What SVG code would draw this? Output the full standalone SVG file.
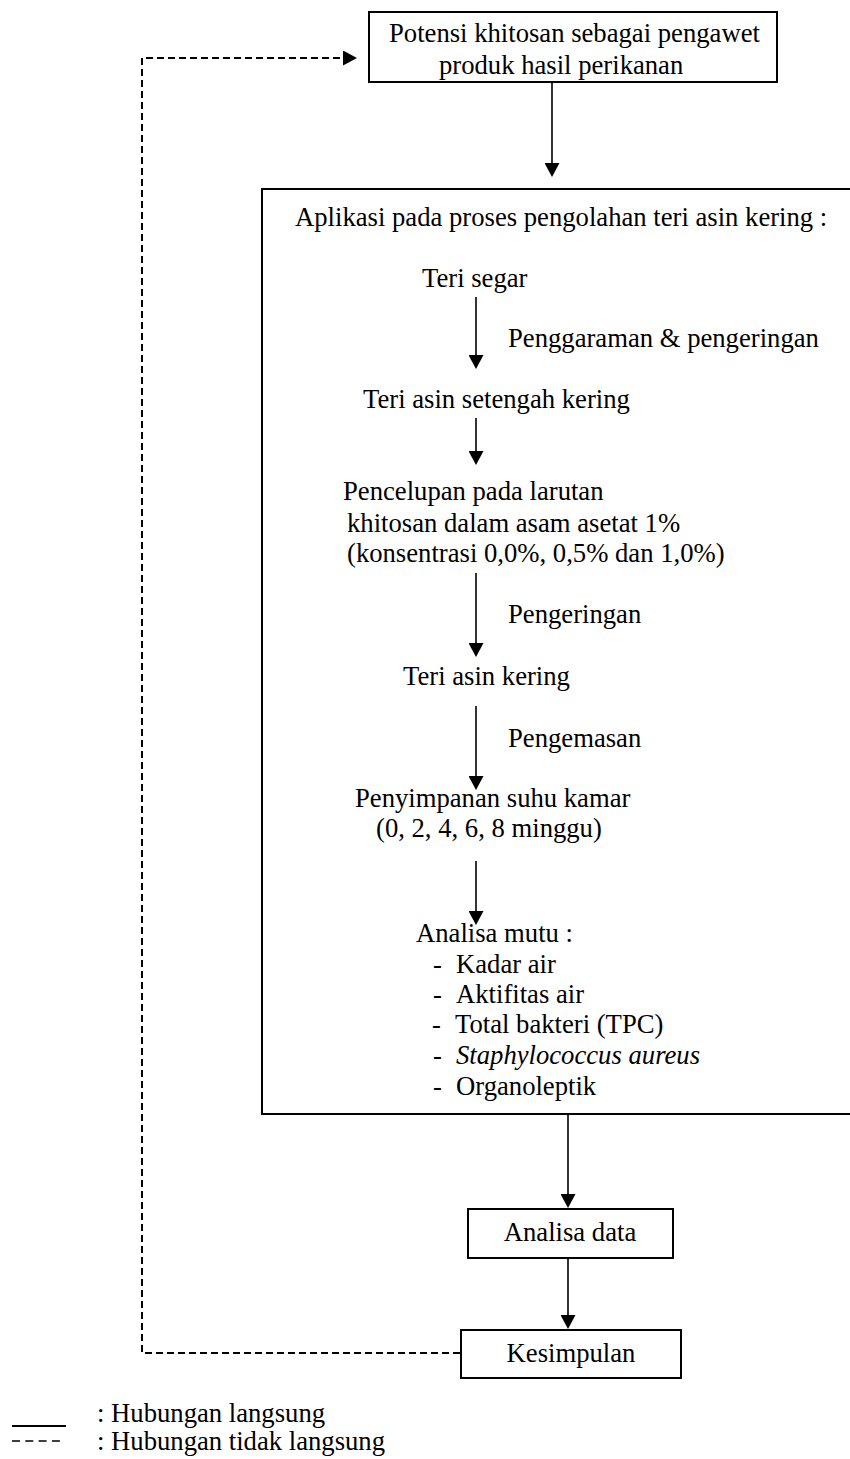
<svg xmlns="http://www.w3.org/2000/svg" width="850" height="1459" viewBox="0 0 850 1459">
<style>
text{font-family:"Liberation Serif","Times New Roman",serif;font-size:26.67px;fill:#000}
.box{fill:#fff;stroke:#000;stroke-width:2}
.frame{fill:none;stroke:#000;stroke-width:2}
.ln{fill:none;stroke:#000;stroke-width:1.6}
.dash{fill:none;stroke:#000;stroke-width:2;stroke-dasharray:7 4}
.it{font-style:italic}
.mid{text-anchor:middle}
</style>
<defs>
<marker id="ah" viewBox="0 0 14 15" refX="12" refY="7.5" markerWidth="14" markerHeight="15" markerUnits="userSpaceOnUse" orient="auto">
<path d="M0,0 L14,7.5 L0,15 z" fill="#000"/>
</marker>
</defs>
<rect width="850" height="1459" fill="#fff"/>

<g id="node-potensi">
<rect class="box" x="369" y="12" width="408" height="70"/>
<text x="389" y="42">Potensi khitosan sebagai pengawet</text>
<text x="439" y="74">produk hasil perikanan</text>
</g>

<g id="node-aplikasi">
<rect class="frame" x="262" y="189" width="620" height="925"/>
<text x="295" y="226">Aplikasi pada proses pengolahan teri asin kering :</text>
</g>
<g id="node-teri-segar"><text x="422" y="287">Teri segar</text></g>
<g id="label-penggaraman"><text x="508" y="347">Penggaraman &amp; pengeringan</text></g>
<g id="node-setengah-kering"><text x="363" y="408">Teri asin setengah kering</text></g>
<g id="node-pencelupan">
<text x="343" y="500">Pencelupan pada larutan</text>
<text x="347" y="532">khitosan dalam asam asetat 1%</text>
<text x="347" y="562">(konsentrasi 0,0%, 0,5% dan 1,0%)</text>
</g>
<g id="label-pengeringan"><text x="508" y="623">Pengeringan</text></g>
<g id="node-asin-kering"><text x="403" y="685">Teri asin kering</text></g>
<g id="label-pengemasan"><text x="508" y="747">Pengemasan</text></g>
<g id="node-penyimpanan">
<text x="355" y="807">Penyimpanan suhu kamar</text>
<text x="376" y="837">(0, 2, 4, 6, 8 minggu)</text>
</g>
<g id="node-analisa-mutu">
<text x="416" y="942">Analisa mutu :</text>
<text x="433" y="973">-</text><text x="456" y="973">Kadar air</text>
<text x="433" y="1003">-</text><text x="456" y="1003">Aktifitas air</text>
<text x="432" y="1033">-</text><text x="455" y="1033">Total bakteri (TPC)</text>
<text x="433" y="1064">-</text><text class="it" x="456" y="1064">Staphylococcus aureus</text>
<text x="433" y="1095">-</text><text x="456" y="1095">Organoleptik</text>
</g>

<g id="node-analisa-data">
<rect class="box" x="468" y="1209" width="205" height="49"/>
<text class="mid" x="570" y="1241">Analisa data</text>
</g>

<g id="node-kesimpulan">
<rect class="box" x="461" y="1330" width="220" height="48"/>
<text class="mid" x="571" y="1362">Kesimpulan</text>
</g>

<g id="connectors">
<line class="ln" x1="552" y1="83" x2="552" y2="175" marker-end="url(#ah)"/>
<line class="ln" x1="476" y1="297" x2="476" y2="367" marker-end="url(#ah)"/>
<line class="ln" x1="476" y1="418" x2="476" y2="463" marker-end="url(#ah)"/>
<line class="ln" x1="476" y1="573" x2="476" y2="655" marker-end="url(#ah)"/>
<line class="ln" x1="476" y1="706" x2="476" y2="788" marker-end="url(#ah)"/>
<line class="ln" x1="476" y1="861" x2="476" y2="923" marker-end="url(#ah)"/>
<line class="ln" x1="568" y1="1115" x2="568" y2="1206" marker-end="url(#ah)"/>
<line class="ln" x1="568" y1="1259" x2="568" y2="1327" marker-end="url(#ah)"/>
<path class="dash" d="M460,1353 H142 V58 H355" marker-end="url(#ah)"/>
</g>

<g id="legend">
<line x1="12" y1="1426" x2="66" y2="1426" stroke="#000" stroke-width="2"/>
<text x="97" y="1422">: Hubungan langsung</text>
<line x1="12" y1="1441" x2="60" y2="1441" stroke="#000" stroke-width="1.5" stroke-dasharray="8 5.3"/>
<text x="97" y="1450">: Hubungan tidak langsung</text>
</g>
</svg>
